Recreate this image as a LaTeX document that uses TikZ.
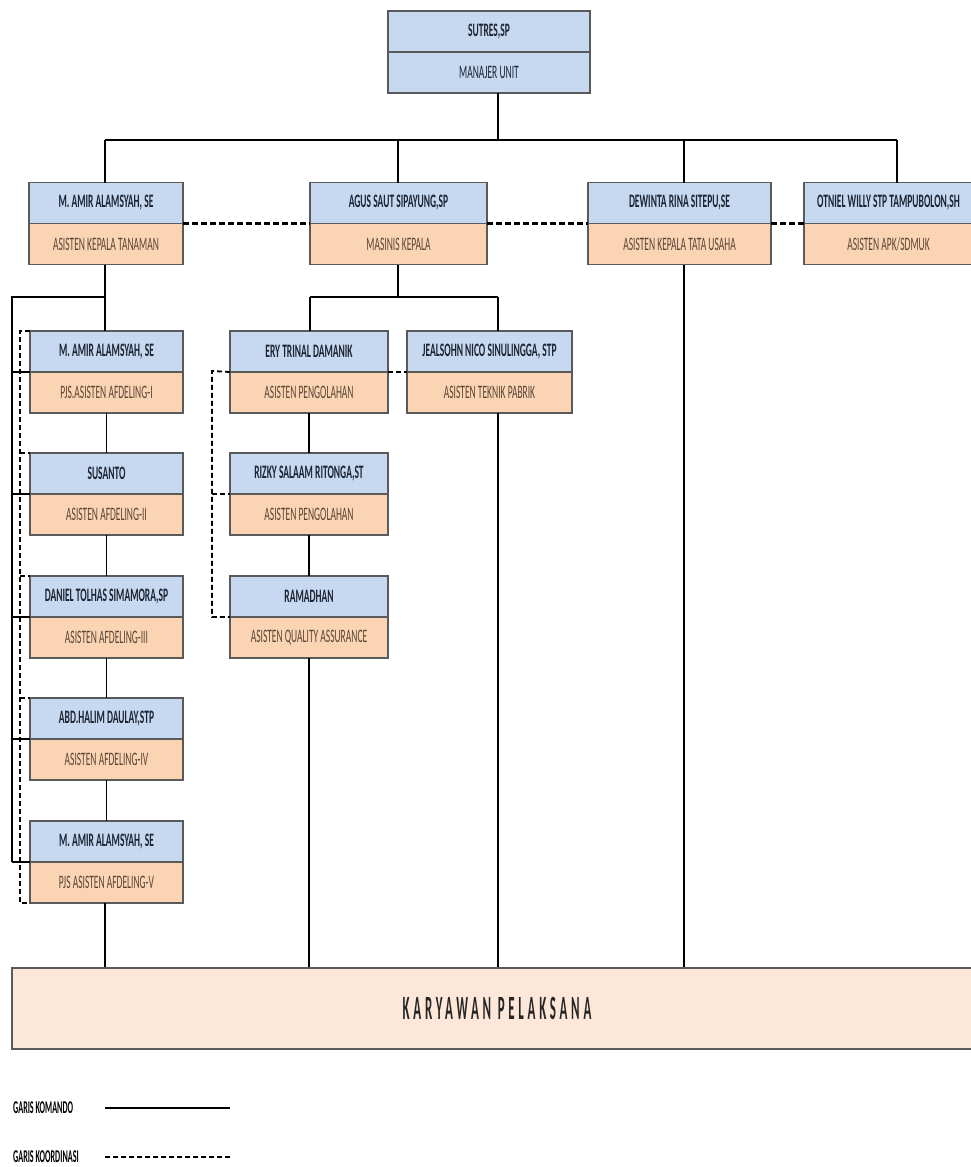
\documentclass[tikz,border=0pt]{standalone}
\usepackage{fontspec}
\setmainfont{Carlito}
\newfontfamily\condfont[FakeStretch=0.5]{Carlito}
\newfontfamily\legfont[FakeStretch=0.45]{Carlito}
\newfontfamily\karyfont[FakeStretch=0.38, LetterSpace=11]{Carlito}
\usetikzlibrary{positioning}

\definecolor{nmfill}{HTML}{C6D9F0}
\definecolor{rlfill}{HTML}{FBD4B4}
\definecolor{kpfill}{HTML}{FDE7D8}
\definecolor{boxline}{HTML}{5A5A5A}
\definecolor{nmtext}{HTML}{1C2433}
\definecolor{rltext}{HTML}{5A4535}

\begin{document}
\begin{tikzpicture}[
  x=1pt, y=-1pt,
  nm/.style  = {draw=boxline, line width=1.5pt, fill=nmfill, minimum height=41pt,
                inner sep=0pt, outer sep=0pt, text=nmtext,
                font=\condfont\fontsize{19}{22}\selectfont\bfseries},
  rl/.style  = {draw=boxline, line width=1.5pt, fill=rlfill, minimum height=41pt,
                inner sep=0pt, outer sep=0pt, text=rltext,
                font=\condfont\fontsize{19}{22}\selectfont},
  cmd/.style = {line width=1.2pt},
  bus/.style = {line width=2.2pt},
  crd/.style = {line width=1.8pt, dash pattern=on 5pt off 3pt},
  crdL/.style = {line width=3pt, dash pattern=on 6pt off 3pt},
  lg/.style  = {anchor=west, inner sep=0pt, font=\legfont\fontsize{18}{20}\selectfont\bfseries}
]
  \useasboundingbox (0,0) rectangle (971,1167);
  \clip (0,0) rectangle (971,1167);

  % bus points
  \coordinate (topDrop) at (498,140);
  \coordinate (busA) at (105,140);
  \coordinate (busB) at (398,140);
  \coordinate (busC) at (684,140);
  \coordinate (busD) at (897,140);
  \coordinate (amirBus) at (105,297);
  \coordinate (afdBus)  at (12,297);
  \coordinate (afdEnd)  at (12,862);
  \coordinate (agusBus) at (398,297);
  \coordinate (eryBus)  at (310,297);
  \coordinate (jeaBus)  at (498,297);
  \coordinate (afdDash) at (20,331);
  \coordinate (afdDashEnd) at (20,903);
  \coordinate (eryDash) at (212,371);
  \coordinate (eryDashEnd) at (212,617);

  % manajer
  \node[nm, minimum width=202pt] (topN) at (489,31.5) {SUTRES,SP};
  \node[rl, minimum width=202pt, below=0pt of topN, fill=nmfill, text=nmtext] (topR) {MANAJER UNIT};

  % kepala
  \node[nm, minimum width=154pt] (amirN) at (106,203) {M. AMIR ALAMSYAH, SE};
  \node[rl, minimum width=154pt, below=0pt of amirN] (amirR) {ASISTEN KEPALA TANAMAN};
  \node[nm, minimum width=177pt] (agusN) at (398.5,203) {AGUS SAUT SIPAYUNG,SP};
  \node[rl, minimum width=177pt, below=0pt of agusN] (agusR) {MASINIS KEPALA};
  \node[nm, minimum width=183pt] (dewN) at (679.5,203) {DEWINTA RINA SITEPU,SE};
  \node[rl, minimum width=183pt, below=0pt of dewN] (dewR) {ASISTEN KEPALA TATA USAHA};
  \node[nm, minimum width=169pt] (otnN) at (888.5,203) {OTNIEL WILLY STP TAMPUBOLON,SH};
  \node[rl, minimum width=169pt, below=0pt of otnN] (otnR) {ASISTEN APK/SDMUK};

  % afdeling
  \node[nm, minimum width=153pt] (afd1N) at (106.5,351.5) {M. AMIR ALAMSYAH, SE};
  \node[rl, minimum width=153pt, below=0pt of afd1N] (afd1R) {PJS.ASISTEN AFDELING-I};
  \node[nm, minimum width=153pt] (afd2N) at (106.5,473.5) {SUSANTO};
  \node[rl, minimum width=153pt, below=0pt of afd2N] (afd2R) {ASISTEN AFDELING-II};
  \node[nm, minimum width=153pt] (afd3N) at (106.5,596.5) {DANIEL TOLHAS SIMAMORA,SP};
  \node[rl, minimum width=153pt, below=0pt of afd3N] (afd3R) {ASISTEN AFDELING-III};
  \node[nm, minimum width=153pt] (afd4N) at (106.5,718.5) {ABD.HALIM DAULAY,STP};
  \node[rl, minimum width=153pt, below=0pt of afd4N] (afd4R) {ASISTEN AFDELING-IV};
  \node[nm, minimum width=153pt] (afd5N) at (106.5,841.5) {M. AMIR ALAMSYAH, SE};
  \node[rl, minimum width=153pt, below=0pt of afd5N] (afd5R) {PJS ASISTEN AFDELING-V};

  % pabrik
  \node[nm, minimum width=158pt] (eryN) at (309,351.5) {ERY TRINAL DAMANIK};
  \node[rl, minimum width=158pt, below=0pt of eryN] (eryR) {ASISTEN PENGOLAHAN};
  \node[nm, minimum width=158pt] (rizN) at (309,473.5) {RIZKY SALAAM RITONGA,ST};
  \node[rl, minimum width=158pt, below=0pt of rizN] (rizR) {ASISTEN PENGOLAHAN};
  \node[nm, minimum width=158pt] (ramN) at (309,596.5) {RAMADHAN};
  \node[rl, minimum width=158pt, below=0pt of ramN] (ramR) {ASISTEN QUALITY ASSURANCE};
  \node[nm, minimum width=165pt] (jeaN) at (489.5,351.5) {JEALSOHN NICO SINULINGGA, STP};
  \node[rl, minimum width=165pt, below=0pt of jeaN] (jeaR) {ASISTEN TEKNIK PABRIK};

  % pelaksana
  \node[draw=boxline, line width=1.5pt, fill=kpfill, minimum width=970pt,
        minimum height=81pt, inner sep=0pt, text=black!85,
        font=\karyfont\fontsize{34}{36}\selectfont\bfseries] (kary) at (497,1008.5) {KARYAWAN PELAKSANA};

  % garis komando
  \draw[cmd] (topDrop |- topR.south) -- (topDrop);
  \draw[bus] (busA) -- (busD);
  \draw[cmd] (busA) -- (busA |- amirN.north);
  \draw[cmd] (busB) -- (busB |- agusN.north);
  \draw[cmd] (busC) -- (busC |- dewN.north);
  \draw[cmd] (busD) -- (busD |- otnN.north);

  \draw[cmd] (amirBus |- amirR.south) -- (amirBus |- afd1N.north);
  \draw[cmd] (amirBus) -- (afdBus) -- (afdEnd);
  \foreach \k in {1,...,5}
    \draw[cmd] (afdBus |- afd\k N.south) -- (afd\k N.south west);
  \draw[cmd] (afd1R) -- (afd2N);
  \draw[cmd] (afd2R) -- (afd3N);
  \draw[cmd] (afd3R) -- (afd4N);
  \draw[cmd] (afd4R) -- (afd5N);
  \draw[cmd] (afd5R.south -| amirBus) -- (kary.north -| amirBus);

  \draw[cmd] (agusBus |- agusR.south) -- (agusBus);
  \draw[cmd] (eryBus) -- (jeaBus);
  \draw[cmd] (eryBus) -- (eryBus |- eryN.north);
  \draw[cmd] (jeaBus) -- (jeaBus |- jeaN.north);
  \draw[cmd] (eryR) -- (rizN);
  \draw[cmd] (rizR) -- (ramN);
  \draw[cmd] (ramR) -- (ramR |- kary.north);
  \draw[cmd] (jeaBus |- jeaR.south) -- (jeaBus |- kary.north);
  \draw[cmd] (busC |- dewR.south) -- (busC |- kary.north);

  % garis koordinasi
  \draw[crdL] (amirN.south east) -- (agusN.south west);
  \draw[crdL] (agusN.south east) -- (dewN.south west);
  \draw[crdL] (dewN.south east) -- (otnN.south west);
  \draw[crd] (eryN.south east) -- (jeaN.south west);
  \draw[crd] (eryN.south west) -- (eryDash) -- (eryDashEnd) -- (ramN.south west);
  \draw[crd] (eryDash |- rizN.south) -- (rizN.south west);
  \draw[crd] (afd1N.north west) -- (afdDash) -- (afdDashEnd) -- (afd5R.south west);
  \foreach \k in {2,3,4}
    \draw[crd] (afdDash |- afd\k N.north) -- (afd\k N.north west);

  % keterangan
  \node[lg] (lgK) at (13,1108) {GARIS KOMANDO};
  \node[lg] (lgC) at (13,1157) {GARIS KOORDINASI};
  \draw[line width=2.5pt] (105,1108) -- (230,1108);
  \draw[line width=2.5pt, dash pattern=on 5pt off 3pt] (105,1157) -- (230,1157);
\end{tikzpicture}
\end{document}
